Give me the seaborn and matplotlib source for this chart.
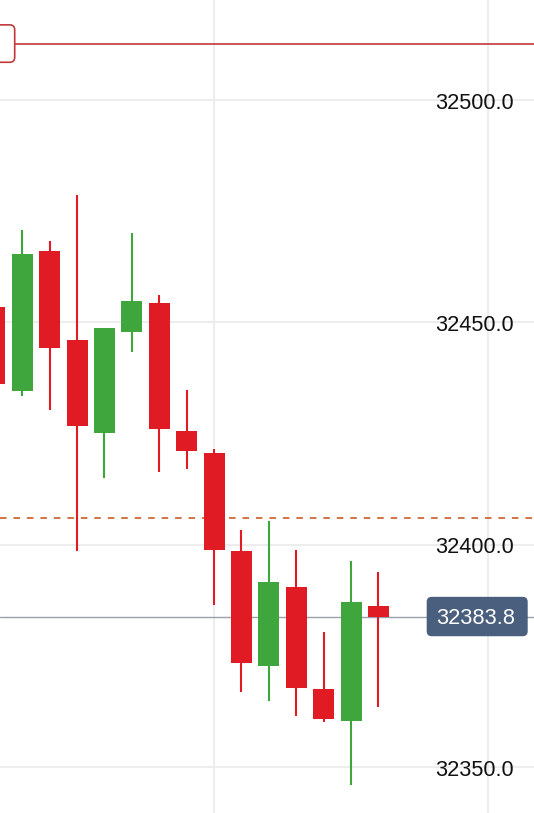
import matplotlib
matplotlib.use("Agg")
import matplotlib.pyplot as plt
from matplotlib.patches import FancyBboxPatch
import seaborn as sns
import pandas as pd

# OHLC values (first candle is cut off at the left edge)
idx = list(range(-1, 14))
opens = [32453.4, 32434.6, 32466.0, 32445.9, 32425.1, 32447.8, 32454.3, 32425.5,
         32420.5, 32398.5, 32372.7, 32390.5, 32367.6, 32360.3, 32386.1]
closes = [32436.2, 32465.4, 32444.1, 32426.6, 32448.7, 32454.8, 32426.0, 32421.1,
          32398.7, 32373.3, 32391.5, 32367.8, 32360.7, 32387.0, 32383.8]
highs = [32455.0, 32470.7, 32468.2, 32478.6, 32448.7, 32470.1, 32456.1, 32434.7,
         32421.6, 32403.2, 32405.3, 32398.7, 32380.4, 32396.3, 32393.8]
lows = [32430.0, 32433.4, 32430.3, 32398.5, 32415.0, 32443.2, 32416.3, 32416.9,
        32386.4, 32366.9, 32364.9, 32361.5, 32360.0, 32346.0, 32363.5]

price_ticks = [32350.0, 32400.0, 32450.0, 32500.0]
time_grid = [7, 17]
dashed_level = 32406.0
order_level = 32512.7

UP = "#3fa63d"
DOWN = "#e11b24"

df = pd.DataFrame({"i": idx, "open": opens, "high": highs, "low": lows, "close": closes})
df["up"] = df["close"] >= df["open"]
df["color"] = df["up"].map({True: UP, False: DOWN})
df["bottom"] = df[["open", "close"]].min(axis=1)
df["height"] = (df["close"] - df["open"]).abs().clip(lower=0.3)

sns.set_theme(style="white")
plt.rcParams["font.family"] = ["Liberation Sans", "DejaVu Sans"]
plt.rcParams["lines.scale_dashes"] = False

fig = plt.figure(figsize=(5.34, 8.13), dpi=100)
ax = fig.add_axes([0, 0, 1, 1])
ax.set_xlim(-0.814, 18.68)
ax.set_ylim(32339.6, 32522.5)
for s in ax.spines.values():
    s.set_visible(False)

ax.set_yticks(price_ticks)
ax.set_xticks(time_grid)
ax.grid(True, color="#ececec", linewidth=1.3)
ax.tick_params(left=False, bottom=False, labelleft=False, labelbottom=False)
ax.set_axisbelow(True)

# current price line and dashed level (behind candles)
ax.axhline(closes[-1], color="#9aa1ad", linewidth=1.0, zorder=1.5)
ax.axhline(dashed_level, color="#cc6a38", linewidth=1.3, dashes=(4.7, 5.0), zorder=1.6)

# candles
ax.vlines(df["i"], df["low"], df["high"], colors=df["color"], linewidth=1.5, zorder=2)
ax.bar(df["i"], df["height"], bottom=df["bottom"], width=0.766,
       color=df["color"], linewidth=0, zorder=3)

# price labels on the right, drawn inside the plot
ytr = ax.get_yaxis_transform()
for v in price_ticks:
    ax.annotate(f"{v:.1f}", xy=(435.5 / 534, v), xycoords=ytr,
                xytext=(0, -8.8), textcoords="offset pixels",
                ha="left", va="baseline", fontsize=15.7, color="#111111", zorder=5)

fig.canvas.draw()
dpi = fig.dpi

# current price tag
ypx = ax.transData.transform((0, closes[-1]))[1]
tag = FancyBboxPatch((426.7 / dpi, (ypx - 19.7) / dpi), 101 / dpi, 39.4 / dpi,
                     boxstyle="round,pad=0,rounding_size=0.05",
                     transform=fig.dpi_scale_trans, fc="#4a5e7d", ec="none", zorder=6)
ax.add_artist(tag)
ax.annotate(f"{closes[-1]:.1f}", xy=(435.7 / 534, closes[-1]), xycoords=ytr,
            xytext=(0, -7.9), textcoords="offset pixels",
            ha="left", va="baseline", fontsize=15.7, color="white", zorder=7)

# order line with clipped label box at the left
ax.axhline(order_level, xmin=14.7 / 534, xmax=1, color="#c2393c", linewidth=1.2, zorder=4)
opx = ax.transData.transform((0, order_level))[1]
box = FancyBboxPatch((-60 / dpi, (opx - 18.7) / dpi), 74.7 / dpi, 37.4 / dpi,
                     boxstyle="round,pad=0,rounding_size=0.05",
                     transform=fig.dpi_scale_trans, fc="white", ec="#c2393c",
                     linewidth=1.2, zorder=6)
ax.add_artist(box)

fig.savefig("out.png", dpi=100)
